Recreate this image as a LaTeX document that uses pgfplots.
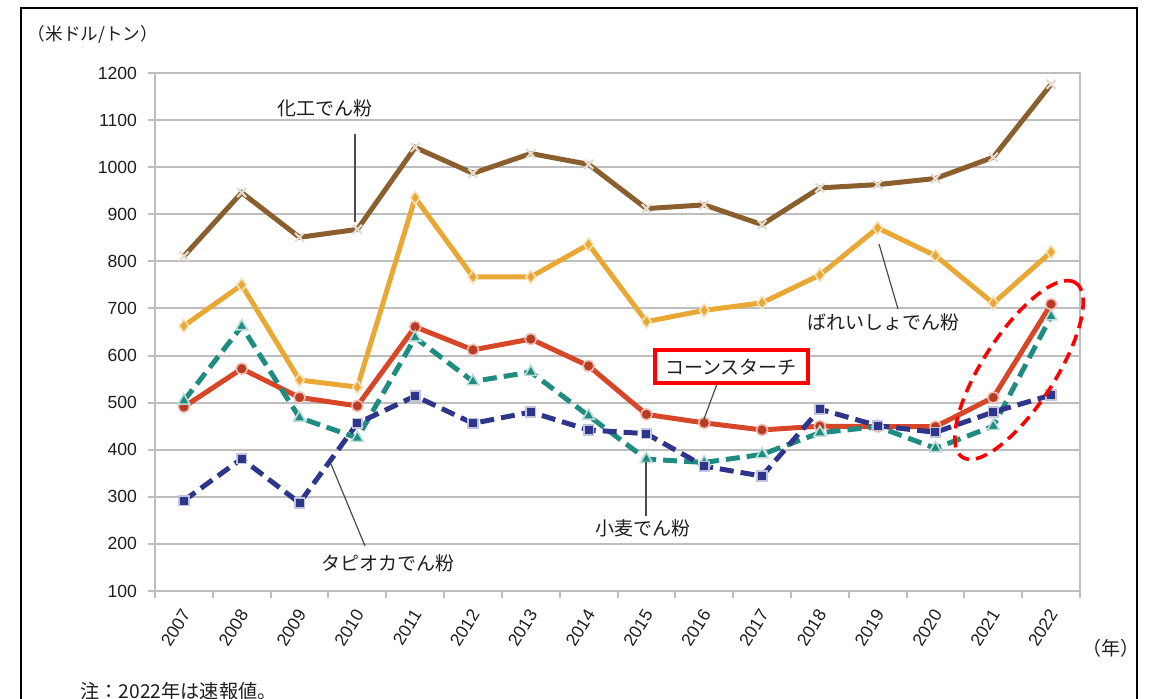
\documentclass[border=0pt]{standalone}
\usepackage{pgfplots}
\pgfplotsset{compat=1.18}
\usepackage{fontspec}
\setmainfont{Liberation Sans}
\newfontfamily\jp{Noto Sans CJK JP}
\definecolor{cbrown}{RGB}{139,94,46}
\definecolor{cgold}{RGB}{233,168,52}
\definecolor{cred}{RGB}{216,70,40}
\definecolor{cteal}{RGB}{30,140,128}
\definecolor{cnavy}{RGB}{46,54,140}
\definecolor{cgrid}{RGB}{190,190,190}
\definecolor{ctext}{RGB}{30,30,30}
\begin{document}
\begin{tikzpicture}
\path[use as bounding box] (0,0) rectangle (576.5pt,-349.5pt);
\begin{axis}[
  at={(77.5pt,-295.5pt)}, anchor=south west,
  scale only axis, width=462.5pt, height=259pt,
  xmin=-0.5, xmax=15.5, ymin=100, ymax=1200,
  ytick={100,200,...,1200},
  xtick={-0.5,0.5,...,15.5},
  x tick label as interval,
  xticklabels={2007,2008,2009,2010,2011,2012,2013,2014,2015,2016,2017,2018,2019,2020,2021,2022},
  tick align=outside, xtick pos=bottom, ytick pos=left,
  ymajorgrids, grid style={cgrid, line width=1pt},
  axis line style={cgrid, line width=1pt},
  tick style={cgrid, line width=1pt},
  major tick length=3.5pt,
  /pgf/number format/.cd, assume math mode=true, 1000 sep={},
  /pgfplots/.cd,
  yticklabel style={font=\fontsize{8.8}{10}\selectfont, text=ctext, xshift=-2pt},
  xticklabel style={font=\fontsize{8.8}{10}\selectfont, text=ctext, xshift=1.7pt, yshift=-5.7pt, rotate=58, anchor=east, inner sep=1pt},
  clip=false,
]
\addplot[cbrown, line width=2.5pt, mark=x, mark size=3.2pt, mark options={draw=cbrown!22!white, line width=1.1pt}] coordinates {
(0,811) (1,946) (2,851) (3,868) (4,1042) (5,987) (6,1029) (7,1006) (8,912) (9,920) (10,878) (11,956) (12,963) (13,976) (14,1021) (15,1176)};
\addplot[cgold, line width=2.5pt, mark=diamond*, mark size=3.2pt, mark options={fill=cgold, draw=cgold!35!white, line width=0.8pt}] coordinates {
(0,663) (1,750) (2,548) (3,533) (4,935) (5,767) (6,767) (7,836) (8,672) (9,696) (10,712) (11,771) (12,871) (13,812) (14,711) (15,820)};
\addplot[cred, line width=2.5pt, mark=*, mark size=2.8pt, mark options={fill=cred!85!black, draw=cred!35!white, line width=0.8pt}] coordinates {
(0,491) (1,572) (2,511) (3,493) (4,661) (5,612) (6,635) (7,578) (8,475) (9,457) (10,442) (11,450) (12,449) (13,449) (14,511) (15,709)};
\addplot[cteal, line width=2.5pt, dash pattern=on 7pt off 3.5pt, mark=triangle*, mark size=3.4pt, mark options={solid, fill=cteal, draw=cteal!30!white, line width=0.8pt}] coordinates {
(0,504) (1,662) (2,468) (3,425) (4,638) (5,545) (6,565) (7,472) (8,380) (9,373) (10,390) (11,436) (12,449) (13,403) (14,450) (15,683)};
\addplot[cnavy, line width=2.5pt, dash pattern=on 7pt off 3.5pt, mark=square*, mark size=2.4pt, mark options={solid, fill=cnavy, draw=cnavy!30!white, line width=0.8pt}] coordinates {
(0,292) (1,381) (2,287) (3,456) (4,514) (5,456) (6,480) (7,442) (8,434) (9,365) (10,344) (11,486) (12,451) (13,437) (14,480) (15,516)};
\end{axis}
\begin{scope}[x=0.5pt,y=-0.5pt]
\draw[black, line width=1.2pt] (21,740) -- (21,8) -- (1137,8) -- (1137,740);
\node[font=\jp\fontsize{8.8}{10}\selectfont, text=ctext] at (93,35) {（米ドル/トン）};
\node[font=\jp\fontsize{9.5}{11}\selectfont, text=ctext] at (1111,648) {（年）};
\node[font=\jp\fontsize{9.6}{11}\selectfont, text=ctext, anchor=west, inner sep=0pt] at (80,691) {注：2022年は速報値。};
\draw[ctext!80!white, line width=0.6pt] (355,134) -- (355,222);
\node[font=\jp\fontsize{9.5}{11}\selectfont, text=ctext] at (325,108) {化工でん粉};
\draw[ctext!80!white, line width=0.6pt] (879,244) -- (898,309);
\node[font=\jp\fontsize{9.5}{11}\selectfont, text=ctext] at (883,322) {ばれいしょでん粉};
\draw[ctext!80!white, line width=0.6pt] (717,384) -- (704,419);
\draw[red, line width=2pt, fill=white] (655,350) rectangle (808,383);
\node[font=\jp\fontsize{9.5}{11}\selectfont, text=ctext] at (731,367) {コーンスターチ};
\draw[ctext!80!white, line width=0.6pt] (646,462) -- (646,516);
\node[font=\jp\fontsize{9.5}{11}\selectfont, text=ctext] at (643,528) {小麦でん粉};
\draw[ctext!80!white, line width=0.6pt] (331,464) -- (365,546);
\node[font=\jp\fontsize{9.5}{11}\selectfont, text=ctext] at (388,563) {タピオカでん粉};
\end{scope}
\draw[red, line width=1.8pt, dash pattern=on 6pt off 3.5pt, rotate around={57:(509.5pt,-185pt)}] (509.5pt,-185pt) ellipse (52pt and 18pt);
\end{tikzpicture}
\end{document}
